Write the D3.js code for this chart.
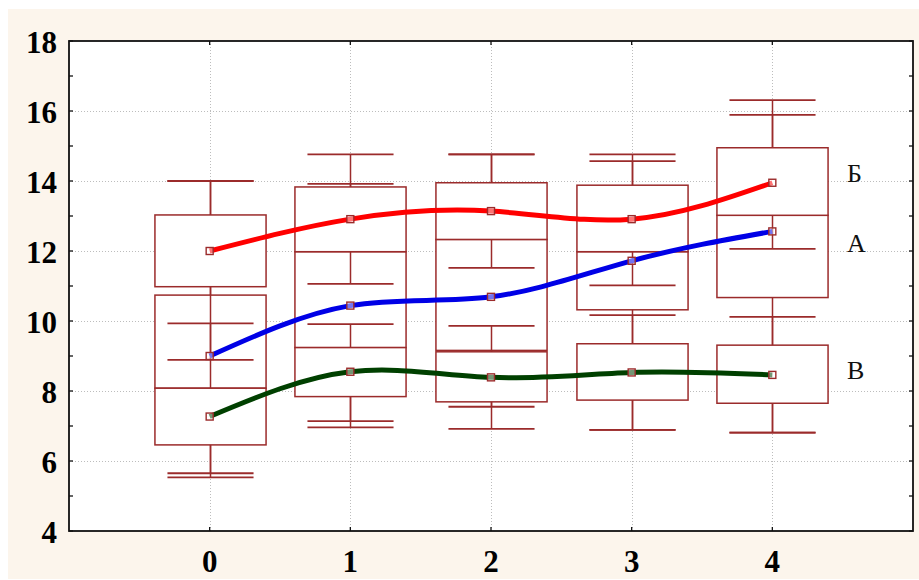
<!DOCTYPE html>
<html><head><meta charset="utf-8">
<script src="https://cdn.jsdelivr.net/npm/d3@7"></script>
<style>body{margin:0;background:#fff;} svg{display:block;}</style>
</head><body><svg id="c" width="919" height="580"></svg>
<script>
// ---- data ----
const categories = [0, 1, 2, 3, 4];
const groupNames = ["А", "Б", "В"];
const groupColors = ["#0000e6", "#ff0000", "#004000"];

// medians (square markers)
const medianA = [9.00, 10.44, 10.69, 11.72, 12.56];
const medianB = [12.00, 12.91, 13.14, 12.91, 13.95];
const medianV = [7.27, 8.55, 8.39, 8.53, 8.46];
// box: 25% .. 75%
const q1A = [8.08, 9.24, 9.16, 10.32, 10.67];
const q3A = [10.74, 11.98, 12.33, 11.98, 13.02];
const q1B = [10.98, 11.98, 12.33, 11.98, 13.02];
const q3B = [13.03, 13.83, 13.95, 13.88, 14.95];
const q1V = [6.46, 7.84, 7.69, 7.74, 7.65];
const q3V = [8.08, 9.24, 9.12, 9.35, 9.31];
// whiskers: min .. max
const minA = [5.53, 6.96, 6.92, 6.89, 6.81];
const maxA = [14.00, 13.92, 14.76, 14.57, 15.89];
const minB = [8.89, 11.06, 11.52, 11.02, 12.06];
const maxB = [14.00, 14.76, 14.76, 14.76, 16.31];
const minV = [5.65, 7.14, 7.55, 6.89, 6.81];
const maxV = [9.93, 9.91, 9.86, 10.17, 10.12];

const yTicks = [4, 6, 8, 10, 12, 14, 16, 18];
const yMinorTicks = [4,5,6,7,8,9,10,11,12,13,14,15,16,17,18];
const xTickLabels = ["0", "1", "2", "3", "4"];
const seriesLabelValue = [11.96, 13.97, 8.33]; // А, Б, В label baselines

const groups = [
  {name: groupNames[0], color: groupColors[0], med: medianA, q1: q1A, q3: q3A, lo: minA, hi: maxA},
  {name: groupNames[1], color: groupColors[1], med: medianB, q1: q1B, q3: q3B, lo: minB, hi: maxB},
  {name: groupNames[2], color: groupColors[2], med: medianV, q1: q1V, q3: q3V, lo: minV, hi: maxV}
];

// ---- layout ----
const L = 69, R = 913, T = 41, B = 531;
const svg = d3.select("#c");
const x = d3.scaleLinear().domain([-1, 5]).range([L, R]);
const y = d3.scaleLinear().domain([4, 18]).range([B, T]);
const step = x(1) - x(0);
const boxHalf = step * 0.395, capHalf = step * 0.306;
const boxColor = "#9b2b2b";

svg.append("rect").attr("x", 8).attr("y", 9).attr("width", 911).attr("height", 570).attr("fill", "#fcf5ec");
svg.append("rect").attr("x", L).attr("y", T).attr("width", R - L).attr("height", B - T).attr("fill", "#fff");

// grid
const grid = svg.append("g").attr("stroke", "#bdbdbd").attr("stroke-width", 1).attr("stroke-dasharray", "1,2");
grid.selectAll("line.v").data(categories).join("line")
  .attr("x1", d => Math.round(x(d)) + 0.5).attr("x2", d => Math.round(x(d)) + 0.5)
  .attr("y1", T).attr("y2", B);
grid.selectAll("line.h").data(yTicks.filter(v => v > 4 && v < 18)).join("line")
  .attr("x1", L).attr("x2", R)
  .attr("y1", d => Math.round(y(d)) + 0.5).attr("y2", d => Math.round(y(d)) + 0.5);

// boxes, drawn group by group (white-filled, later covers earlier)
const bx = svg.append("g").attr("stroke", boxColor).attr("stroke-width", 1.5);
groups.forEach(g => {
  categories.forEach((c, i) => {
    const cx = Math.round(x(c)) + 0.5;
    bx.append("line").attr("x1", cx).attr("x2", cx).attr("y1", y(g.lo[i])).attr("y2", y(g.hi[i]));
    [g.lo[i], g.hi[i]].forEach(v => {
      bx.append("line").attr("x1", cx - capHalf).attr("x2", cx + capHalf)
        .attr("y1", y(v)).attr("y2", y(v)).attr("stroke-width", 1.8);
    });
    bx.append("rect").attr("x", cx - boxHalf).attr("width", 2 * boxHalf)
      .attr("y", y(g.q3[i])).attr("height", y(g.q1[i]) - y(g.q3[i]))
      .attr("fill", "#fff");
  });
});

// smooth lines through medians
const line = d3.line().x(d => x(d[0])).y(d => y(d[1])).curve(d3.curveNatural);
groups.forEach(g => {
  svg.append("path").datum(categories.map((c, i) => [c, g.med[i]]))
    .attr("d", line).attr("fill", "none").attr("stroke", g.color).attr("stroke-width", 5);
});
// markers
groups.forEach(g => {
  svg.append("g").selectAll("rect").data(categories).join("rect")
    .attr("x", (d, i) => x(d) - 3.5).attr("y", (d, i) => y(g.med[i]) - 3.5)
    .attr("width", 7).attr("height", 7)
    .attr("fill", "rgba(255,255,255,0.45)").attr("stroke", boxColor).attr("stroke-width", 1.4);
});

// frame
svg.append("rect").attr("x", L).attr("y", T).attr("width", R - L).attr("height", B - T)
  .attr("fill", "none").attr("stroke", "#111").attr("stroke-width", 1.8);
// ticks
const tk = svg.append("g").attr("stroke", "#111").attr("stroke-width", 1.3);
yMinorTicks.forEach(v => {
  tk.append("line").attr("x1", L).attr("x2", L + 4).attr("y1", y(v)).attr("y2", y(v));
  tk.append("line").attr("x1", R - 4).attr("x2", R).attr("y1", y(v)).attr("y2", y(v));
});
categories.forEach(c => {
  tk.append("line").attr("x1", x(c)).attr("x2", x(c)).attr("y1", T).attr("y2", T + 4);
  tk.append("line").attr("x1", x(c)).attr("x2", x(c)).attr("y1", B - 4).attr("y2", B);
});

// tick labels
const font = "'Liberation Serif','Times New Roman',serif";
svg.append("g").selectAll("text").data(yTicks).join("text")
  .attr("x", 57).attr("y", d => y(d) + 11.5).attr("text-anchor", "end")
  .attr("font-family", font).attr("font-weight", "bold").attr("font-size", 31).attr("fill", "#000")
  .text(d => d);
svg.append("g").selectAll("text").data(categories).join("text")
  .attr("x", d => x(d)).attr("y", 572).attr("text-anchor", "middle")
  .attr("font-family", font).attr("font-weight", "bold").attr("font-size", 31).attr("fill", "#000")
  .text((d, i) => xTickLabels[i]);

// series labels
svg.append("g").selectAll("text").data(groups).join("text")
  .attr("x", 847).attr("y", (d, i) => y(seriesLabelValue[i]))
  .attr("font-family", font).attr("font-size", 26).attr("fill", "#111")
  .text(d => d.name);
</script></body></html>
